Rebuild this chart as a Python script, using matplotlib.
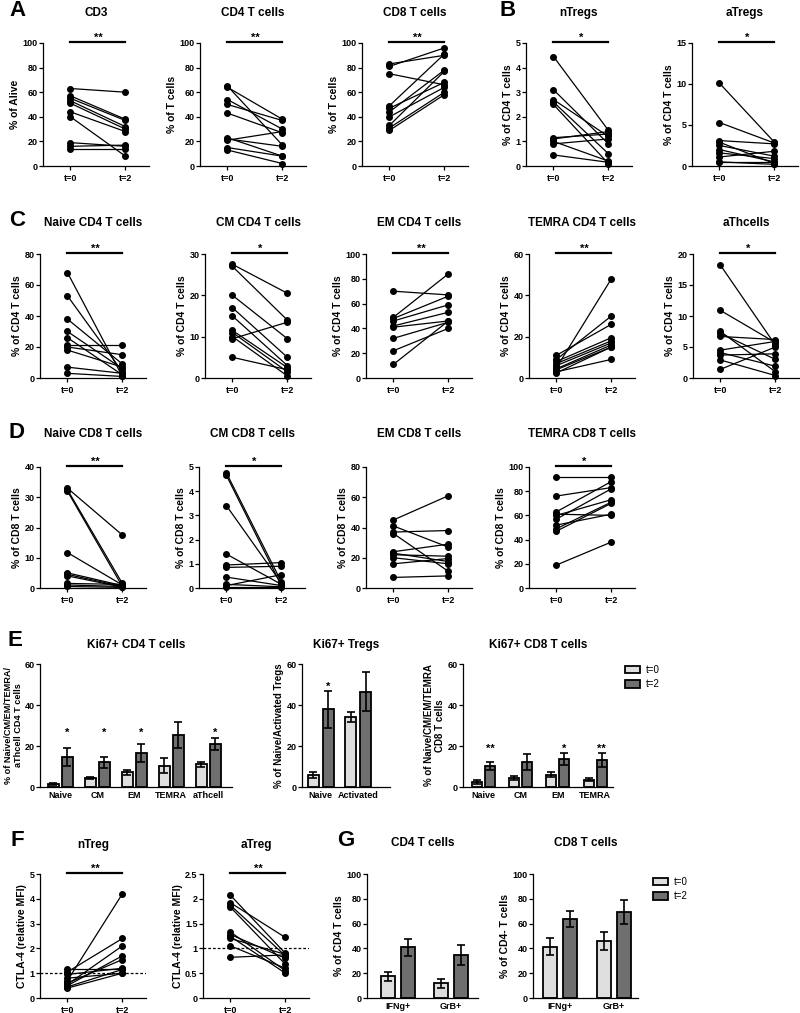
import numpy as np
import matplotlib.pyplot as plt
from matplotlib.ticker import FormatStrFormatter

plt.rcParams['font.family'] = ['Liberation Sans', 'DejaVu Sans']
plt.rcParams['font.weight'] = 'bold'
plt.rcParams['axes.labelweight'] = 'bold'
plt.rcParams['axes.linewidth'] = 0.9

# ---- data: paired dot plots (t=0 -> t=2) ----
cd3_t0 = [63, 57, 55, 53, 51, 44, 40, 19, 16, 14]
cd3_t2 = [60, 38, 37, 32, 30, 28, 8, 16, 17, 14]
cd4_t0 = [65, 64, 54, 50, 43, 23, 21, 15, 13, 22]
cd4_t2 = [17, 38, 30, 37, 27, 8, 28, 8, 2, 16]
cd8_t0 = [83, 81, 75, 49, 47, 44, 40, 33, 31, 29]
cd8_t2 = [90, 96, 66, 91, 68, 78, 64, 77, 60, 58]
ntregs_t0 = [4.45, 3.1, 2.7, 2.6, 2.5, 1.15, 1.1, 1.0, 0.9, 0.45]
ntregs_t2 = [1.45, 0.9, 1.2, 0.5, 0.1, 1.3, 1.4, 0.2, 1.1, 0.15]
atregs_t0 = [10.1, 5.3, 3.1, 2.9, 2.5, 2.0, 1.6, 1.1, 0.45, 0.5]
atregs_t2 = [2.9, 2.8, 2.7, 0.3, 1.2, 0.5, 0.9, 1.8, 0.45, 0.2]

naive4_t0 = [68, 53, 38, 30, 26, 21, 20, 18, 7, 3]
naive4_t2 = [1, 4, 9, 6, 2, 21, 15, 7, 3, 1]
cm4_t0 = [27.5, 27, 20, 17, 15, 11.5, 11, 10, 9.5, 5]
cm4_t2 = [20.5, 14, 9.5, 5, 3, 2.5, 1.5, 0.5, 13.5, 2]
em4_t0 = [70, 49, 48, 46, 42, 41, 32, 22, 11]
em4_t2 = [67, 84, 66, 59, 53, 46, 45, 40, 46]
temra4_t0 = [11, 9, 8, 7, 6, 5, 4.5, 4, 3, 2.5]
temra4_t2 = [26, 30, 19.5, 18, 17, 48, 16, 15, 9, 15]
ath_t0 = [18.2, 10.9, 7.5, 7.2, 6.7, 4.5, 4.1, 3.7, 2.9, 1.4]
ath_t2 = [5.3, 5.7, 1.0, 3.0, 6.2, 5.9, 1.9, 3.9, 0.4, 5.0]

naive8_t0 = [33, 32.5, 32, 11.7, 5, 4.5, 4, 1.5, 1, 0.5]
naive8_t2 = [17.5, 1.5, 0.5, 1, 0.8, 0.5, 0.3, 1.2, 0.5, 0.2]
cm8_t0 = [4.75, 4.65, 3.4, 1.4, 0.95, 0.85, 0.45, 0.15, 0.1, 0.05]
cm8_t2 = [0.25, 0.1, 0.2, 0.15, 1.05, 0.9, 0.1, 0.05, 0.55, 0.05]
em8_t0 = [45, 41, 37, 36, 24, 23, 22, 20, 16, 7]
em8_t2 = [61, 27, 38, 11, 29, 17.5, 21, 16, 19.5, 8]
temra8_t0 = [92, 76, 63, 61, 60, 57, 52, 49, 47, 19]
temra8_t2 = [92, 83, 88, 60, 73, 82, 61, 71, 70, 38]

ntreg_ctla_t0 = [1.15, 1.05, 0.95, 0.8, 0.7, 0.6, 0.55, 0.5, 0.45, 0.4]
ntreg_ctla_t2 = [1.15, 2.4, 1.2, 1.0, 4.2, 1.55, 2.1, 1.7, 1.15, 1.0]
atreg_ctla_t0 = [2.07, 1.92, 1.87, 1.83, 1.33, 1.28, 1.24, 1.2, 1.05, 0.82]
atreg_ctla_t2 = [0.9, 1.22, 0.85, 0.68, 0.55, 0.8, 0.5, 0.88, 0.6, 0.87]

# ---- data: bar charts (mean, error) ----
ki4_cats = ['Naive', 'CM', 'EM', 'TEMRA', 'aThcell']
ki4_t0 = [1.5, 4.2, 7.2, 10.3, 11.2]
ki4_t0_err = [0.3, 0.5, 1.2, 3.7, 1.2]
ki4_t2 = [14.5, 12, 16.5, 25.3, 21]
ki4_t2_err = [4.4, 2.5, 4.3, 6.2, 2.9]
ki4_stars = ['*', '*', '*', '', '*']

kitreg_cats = ['Naive', 'Activated']
kitreg_t0 = [6, 34]
kitreg_t0_err = [1.5, 2.5]
kitreg_t2 = [38, 46.5]
kitreg_t2_err = [9, 9.5]
kitreg_stars = ['*', '']

ki8_cats = ['Naive', 'CM', 'EM', 'TEMRA']
ki8_t0 = [2.4, 4.4, 6, 3.5]
ki8_t0_err = [1.1, 0.9, 1.3, 0.7]
ki8_t2 = [10.3, 12.1, 13.7, 13.2]
ki8_t2_err = [2.1, 4, 3.1, 3.3]
ki8_stars = ['**', '', '*', '**']

g_cats = ['IFNg+', 'GrB+']
g4_t0 = [17.5, 11.8]
g4_t0_err = [3.5, 3.5]
g4_t2 = [40.9, 35]
g4_t2_err = [6.7, 8]
g8_t0 = [41.5, 45.7]
g8_t0_err = [7, 7.3]
g8_t2 = [63.7, 69.4]
g8_t2_err = [6.2, 10]

LIGHT = '#dedede'
DARK = '#6f6f6f'
W, H = 800, 1013
fig = plt.figure(figsize=(8, 10.13), dpi=100)


def box(x0, x1, top, bot):
    return fig.add_axes([x0 / W, 1 - bot / H, (x1 - x0) / W, (bot - top) / H])


def base(ax, ymax, yticks, ylabel, lpad=1.5, lsize=7.5):
    ax.spines[['top', 'right']].set_visible(False)
    ax.set_ylim(0, ymax)
    ax.set_yticks(yticks)
    ax.yaxis.set_major_formatter(FormatStrFormatter('%g'))
    ax.tick_params(length=3, width=0.9, labelsize=6.5, pad=1)
    ax.set_ylabel(ylabel, fontsize=lsize, labelpad=lpad)


def title(ax, txt, y):
    b = ax.get_position()
    fig.text((b.x0 + b.x1) / 2, 1 - y / H, txt, ha='center', va='center', fontsize=8.5, weight='bold')


def star(ax, x, y, s, up=0):
    ax.annotate(s, (x, y), xytext=(0, up - 0.57 * 8), textcoords='offset points',
                ha='center', va='baseline', fontsize=8, annotation_clip=False)


def paired(x0, top, bot, t0, t2, ymax, yticks, ttl, ty, ylabel, stars=None, ref=None):
    ax = box(x0, x0 + 106, top, bot)
    for a, b in zip(t0, t2):
        ax.plot([0, 1], [a, b], '-o', color='black', lw=0.9, ms=4, clip_on=False)
    ax.set_xlim(-0.5, 1.43)
    ax.set_xticks([0, 1], ['t=0', 't=2'])
    base(ax, ymax, yticks, ylabel)
    ax.tick_params(axis='x', pad=2.5)
    if ref is not None:
        ax.axhline(ref, color='black', lw=0.9, ls=(0, (2.2, 1.6)))
    if stars:
        ax.plot([0, 1], [ymax * 1.01] * 2, color='black', lw=1.6, clip_on=False)
        star(ax, 0.5, ymax * 1.01, stars, up=5)
    title(ax, ttl, ty)
    return ax


def bars(x0, x1, top, bot, cats, m0, e0, m2, e2, xlim, off, width, ymax, yticks,
         ttl, ty, ylabel, stars=None, star_y=None, lpad=1.5, lsize=7.5):
    ax = box(x0, x1, top, bot)
    x = np.arange(len(cats))
    kw = dict(edgecolor='black', linewidth=1.3, capsize=3, error_kw=dict(elinewidth=1.2, capthick=1.2))
    b0 = ax.bar(x - off, m0, width, yerr=e0, color=LIGHT, label='t=0', **kw)
    b2 = ax.bar(x + off, m2, width, yerr=e2, color=DARK, label='t=2', **kw)
    ax.set_xlim(*xlim)
    ax.set_xticks(x, cats)
    base(ax, ymax, yticks, ylabel, lpad, lsize)
    ax.tick_params(axis='x', length=0, pad=3)
    if stars:
        for xi, s in zip(x, stars):
            if s:
                star(ax, xi + off, star_y, s)
    title(ax, ttl, ty)
    return ax, b0, b2


# ---- row A / B ----
TA, BA, YA = 43, 166, 13
paired(43, TA, BA, cd3_t0, cd3_t2, 100, range(0, 101, 20), 'CD3', YA, '% of Alive', '**')
paired(200, TA, BA, cd4_t0, cd4_t2, 100, range(0, 101, 20), 'CD4 T cells', YA, '% of T cells', '**')
paired(362, TA, BA, cd8_t0, cd8_t2, 100, range(0, 101, 20), 'CD8 T cells', YA, '% of T cells', '**')
paired(526, TA, BA, ntregs_t0, ntregs_t2, 5, range(0, 6), 'nTregs', YA, '% of CD4 T cells', '*')
paired(692, TA, BA, atregs_t0, atregs_t2, 15, [0, 5, 10, 15], 'aTregs', YA, '% of CD4 T cells', '*')

# ---- row C ----
TC, BC, YC = 254, 378, 223
paired(40, TC, BC, naive4_t0, naive4_t2, 80, range(0, 81, 20), 'Naive CD4 T cells', YC, '% of CD4 T cells', '**')
paired(205, TC, BC, cm4_t0, cm4_t2, 30, [0, 10, 20, 30], 'CM CD4 T cells', YC, '% of CD4 T cells', '*')
paired(366, TC, BC, em4_t0, em4_t2, 100, range(0, 101, 20), 'EM CD4 T cells', YC, '% of CD4 T cells', '**')
paired(529, TC, BC, temra4_t0, temra4_t2, 60, [0, 20, 40, 60], 'TEMRA CD4 T cells', YC, '% of CD4 T cells', '**')
paired(693, TC, BC, ath_t0, ath_t2, 20, [0, 5, 10, 15, 20], 'aThcells', YC, '% of CD4 T cells', '*')

# ---- row D ----
TD, BD, YD = 467, 588, 434
paired(40, TD, BD, naive8_t0, naive8_t2, 40, [0, 10, 20, 30, 40], 'Naive CD8 T cells', YD, '% of CD8 T cells', '**')
paired(199, TD, BD, cm8_t0, cm8_t2, 5, range(0, 6), 'CM CD8 T cells', YD, '% of CD8 T cells', '*')
paired(366, TD, BD, em8_t0, em8_t2, 80, range(0, 81, 20), 'EM CD8 T cells', YD, '% of CD8 T cells')
paired(529, TD, BD, temra8_t0, temra8_t2, 100, range(0, 101, 20), 'TEMRA CD8 T cells', YD, '% of CD8 T cells', '*')

# ---- row E ----
TE, BE, YE = 664, 787, 645
bars(40, 232, TE, BE, ki4_cats, ki4_t0, ki4_t0_err, ki4_t2, ki4_t2_err, (-0.55, 4.64), 0.19, 0.3,
     60, [0, 20, 40, 60], 'Ki67+ CD4 T cells', YE, '% of Naive/CM/EM/TEMRA/\naThcell CD4 T cells',
     ki4_stars, 28, lpad=1, lsize=6.6)
bars(302, 390, TE, BE, kitreg_cats, kitreg_t0, kitreg_t0_err, kitreg_t2, kitreg_t2_err, (-0.5, 1.85),
     0.2, 0.29, 60, [0, 20, 40, 60], 'Ki67+ Tregs', YE, '% of Naive/Activated Tregs', kitreg_stars, 50.5,
     lsize=7)
_, l0, l2 = bars(463, 613, TE, BE, ki8_cats, ki8_t0, ki8_t0_err, ki8_t2, ki8_t2_err, (-0.55, 3.48),
                 0.175, 0.27, 60, [0, 20, 40, 60], 'Ki67+ CD8 T cells', YE,
                 '% of Naive/CM/EM/TEMRA\nCD8 T cells', ki8_stars, 20, lsize=7)
leg_kw = dict(loc='upper left', frameon=False, prop=dict(weight='normal', size=7), handlelength=1.5,
              handleheight=0.75, labelspacing=0.45, handletextpad=0.6, borderaxespad=0, borderpad=0)
fig.legend([l0, l2], ['t=0', 't=2'], bbox_to_anchor=(625 / W, 1 - 665 / H), **leg_kw)

# ---- row F ----
TF, BF, YF = 874, 998, 845
paired(40, TF, BF, ntreg_ctla_t0, ntreg_ctla_t2, 5, range(0, 6), 'nTreg', YF, 'CTLA-4 (relative MFI)', '**', ref=1)
paired(203, TF, BF, atreg_ctla_t0, atreg_ctla_t2, 2.5, [0, 0.5, 1, 1.5, 2, 2.5], 'aTreg', YF,
       'CTLA-4 (relative MFI)', '**', ref=1)

# ---- row G ----
bars(367, 478, TF, BF, g_cats, g4_t0, g4_t0_err, g4_t2, g4_t2_err, (-0.585, 1.51), 0.19, 0.27,
     100, range(0, 101, 20), 'CD4 T cells', 843, '% of CD4 T cells')
_, g0, g2 = bars(533, 638, TF, BF, g_cats, g8_t0, g8_t0_err, g8_t2, g8_t2_err, (-0.5, 1.44), 0.185, 0.26,
                 100, range(0, 101, 20), 'CD8 T cells', 843, '% of CD4- T cells')
fig.legend([g0, g2], ['t=0', 't=2'], bbox_to_anchor=(653 / W, 1 - 877 / H), **leg_kw)

# ---- panel letters ----
for letter, lx, ly in [('A', 17, 11), ('B', 508, 10), ('C', 17, 220), ('D', 17, 432),
                       ('E', 15, 641), ('F', 17, 840), ('G', 346, 840)]:
    fig.text(lx / W, 1 - ly / H, letter, ha='center', va='center', fontsize=16, weight='bold')

fig.savefig('out.png', dpi=100)
